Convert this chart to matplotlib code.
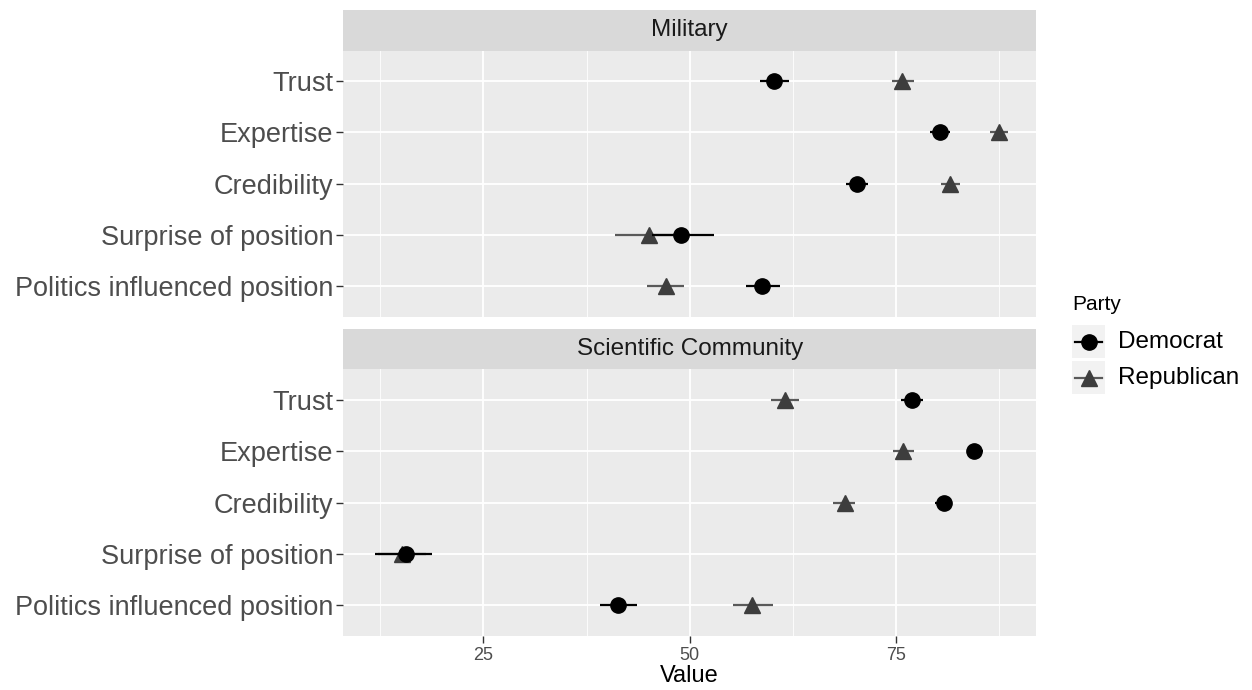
import matplotlib.pyplot as plt
from matplotlib.lines import Line2D
from matplotlib.patches import Rectangle

plt.rcParams['font.family'] = ['Liberation Sans', 'DejaVu Sans']

measures = ["Trust", "Expertise", "Credibility", "Surprise of position",
            "Politics influenced position"]
panels = ["Military", "Scientific Community"]
parties = ["Democrat", "Republican"]

# estimate, low, high for each measure
mil_dem = [60.2, 80.3, 70.3, 49.0, 58.8]
mil_dem_lo = [58.5, 79.1, 68.9, 45.4, 56.8]
mil_dem_hi = [62.0, 81.6, 71.6, 53.0, 60.9]
mil_rep = [75.8, 87.5, 81.6, 45.1, 47.1]
mil_rep_lo = [74.5, 86.4, 80.5, 41.0, 44.8]
mil_rep_hi = [77.2, 88.6, 82.8, 49.2, 49.3]

sci_dem = [76.9, 84.5, 80.8, 15.6, 41.3]
sci_dem_lo = [75.6, 83.6, 79.8, 11.9, 39.1]
sci_dem_hi = [78.3, 85.6, 81.8, 18.7, 43.6]
sci_rep = [61.5, 75.9, 68.8, 15.1, 57.6]
sci_rep_lo = [59.9, 74.6, 67.4, 12.2, 55.2]
sci_rep_hi = [63.3, 77.2, 70.1, 18.0, 60.1]

x_ticks = [25, 50, 75]
x_minor = [12.5, 37.5, 62.5, 87.5]

dem_col = "black"
rep_col = "#3d3d3d"
rep_line = "#595959"

fig = plt.figure(figsize=(12.52, 6.9), dpi=100)
left, width = 0.2742, 0.5533
panel_rects = [(0.541, 0.9265), (0.0787, 0.4648)]

data = [
    (mil_dem, mil_dem_lo, mil_dem_hi, mil_rep, mil_rep_lo, mil_rep_hi),
    (sci_dem, sci_dem_lo, sci_dem_hi, sci_rep, sci_rep_lo, sci_rep_hi),
]

ypos = list(range(len(measures)))

for i, (name, (pb, sb), d) in enumerate(zip(panels, panel_rects, data)):
    ax = fig.add_axes([left, pb, width, 0.3858])
    ax.set_facecolor("#EBEBEB")
    for s in ax.spines.values():
        s.set_visible(False)
    ax.set_xlim(8.0, 92.0)
    ax.set_ylim(len(measures) - 0.4, -0.6)
    ax.set_xticks(x_ticks)
    ax.set_xticks(x_minor, minor=True)
    ax.set_yticks(ypos)
    ax.set_yticklabels(measures, fontsize=19.5, color="#4D4D4D")
    ax.grid(which="major", color="white", lw=1.3)
    ax.grid(which="minor", axis="x", color="white", lw=0.6)
    ax.set_axisbelow(True)
    ax.tick_params(axis="y", length=5, width=1, color="#333333", pad=2)
    ax.tick_params(axis="x", which="minor", length=0)
    if i == 0:
        ax.tick_params(axis="x", which="major", length=0, labelbottom=False)
    else:
        ax.tick_params(axis="x", which="major", length=5, width=1,
                       color="#333333", labelsize=13, labelcolor="#4D4D4D", pad=3)
        ax.set_xlabel("Value", fontsize=17, color="black", labelpad=1)

    dem, dlo, dhi, rep, rlo, rhi = d
    ax.hlines(ypos, rlo, rhi, color=rep_line, lw=1.6, zorder=3)
    ax.plot(rep, ypos, ls="none", marker="^", ms=12, color=rep_col, zorder=4)
    ax.hlines(ypos, dlo, dhi, color=dem_col, lw=1.6, zorder=5)
    ax.plot(dem, ypos, ls="none", marker="o", ms=11, color=dem_col, zorder=6)

    strip = fig.add_axes([left, sb, width, 0.0588])
    strip.set_facecolor("#D9D9D9")
    strip.set_xticks([])
    strip.set_yticks([])
    for s in strip.spines.values():
        s.set_visible(False)
    strip.text(0.5, 0.5, name, ha="center", va="center", fontsize=17.5,
               color="#1A1A1A", transform=strip.transAxes)

# legend drawn in its own axes, pixel units with y going down
lax = fig.add_axes([1060 / 1252, 1 - 400 / 690, 190 / 1252, 120 / 690])
lax.set_xlim(1060, 1250)
lax.set_ylim(400, 280)
lax.axis("off")
lax.text(1072, 304, "Party", fontsize=15, va="center", ha="left", color="black")
key_style = [
    dict(color=dem_col, line=dem_col, marker="o", ms=11),
    dict(color=rep_col, line=rep_line, marker="^", ms=12),
]
for k, (lab, st) in enumerate(zip(parties, key_style)):
    top = 325 + 36 * k
    lax.add_patch(Rectangle((1072, top), 33, 33, facecolor="#F2F2F2",
                            edgecolor="none"))
    lax.plot([1075, 1102], [top + 16.5] * 2, color=st["line"], lw=1.6)
    lax.plot([1088.5], [top + 16.5], marker=st["marker"], ms=st["ms"],
             color=st["color"], ls="none")
    lax.text(1118, top + 17, lab, fontsize=17.5, va="center", ha="left",
             color="black")

fig.savefig("out.png", dpi=100)
